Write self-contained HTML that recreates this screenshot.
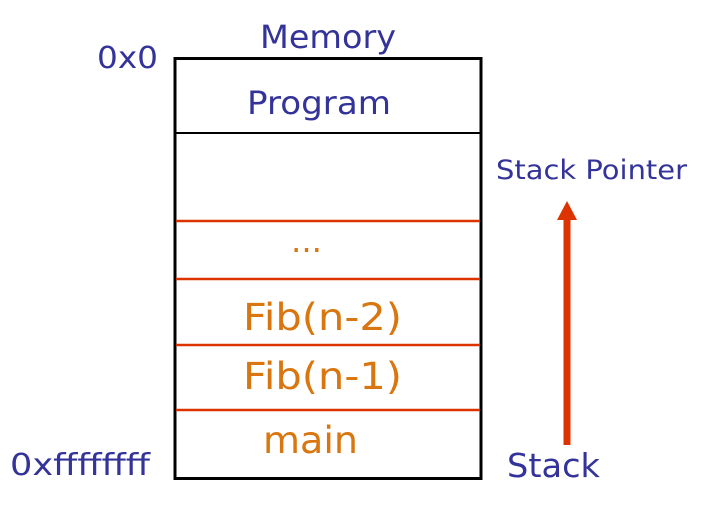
<!DOCTYPE html>
<html><head><style>body{margin:0;background:#fff}</style></head><body>
<svg width="703" height="502" xmlns="http://www.w3.org/2000/svg" font-family="DejaVu Sans, Verdana, sans-serif">
<rect x="175" y="58.5" width="306" height="420" fill="none" stroke="#000" stroke-width="3"/>
<line x1="175" y1="133" x2="481" y2="133" stroke="#000" stroke-width="2"/>
<g stroke="#dd3300" stroke-width="2.5">
<line x1="176" y1="221" x2="480" y2="221"/>
<line x1="176" y1="279" x2="480" y2="279"/>
<line x1="176" y1="345" x2="480" y2="345"/>
<line x1="176" y1="410" x2="480" y2="410"/>
</g>
<g fill="#333399">
<text x="260" y="48" font-size="32" textLength="136" lengthAdjust="spacingAndGlyphs">Memory</text>
<text x="97" y="68" font-size="30" textLength="61" lengthAdjust="spacingAndGlyphs">0x0</text>
<text x="247" y="114" font-size="32" textLength="144" lengthAdjust="spacingAndGlyphs">Program</text>
<text x="496" y="179" font-size="27" textLength="191" lengthAdjust="spacingAndGlyphs">Stack Pointer</text>
<text x="10" y="475" font-size="30" textLength="140" lengthAdjust="spacingAndGlyphs">0xffffffff</text>
<text x="507" y="477" font-size="33" textLength="93" lengthAdjust="spacingAndGlyphs">Stack</text>
</g>
<g fill="#d9760f">
<text x="291" y="252" font-size="32" textLength="31" lengthAdjust="spacingAndGlyphs">...</text>
<text x="243" y="330" font-size="37" textLength="159" lengthAdjust="spacingAndGlyphs">Fib(n-2)</text>
<text x="243" y="389" font-size="37" textLength="159" lengthAdjust="spacingAndGlyphs">Fib(n-1)</text>
<text x="263" y="453" font-size="37" textLength="95" lengthAdjust="spacingAndGlyphs">main</text>
</g>
<line x1="567" y1="445" x2="567" y2="215" stroke="#dd3300" stroke-width="7"/>
<polygon points="557,220 577,220 567,201" fill="#dd3300"/>
</svg>
</body></html>
